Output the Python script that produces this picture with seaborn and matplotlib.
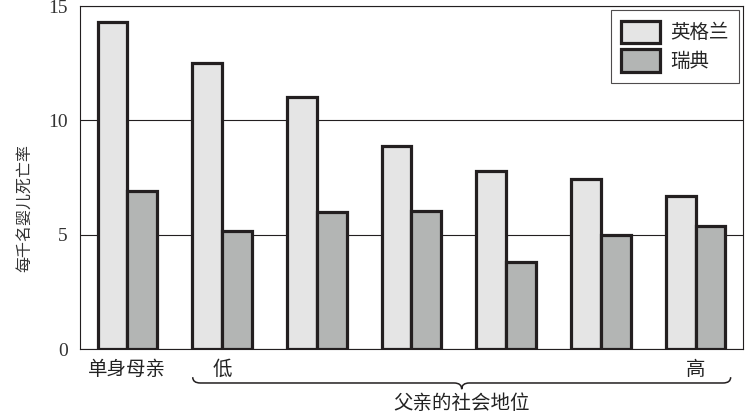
import matplotlib
matplotlib.use("Agg")
import matplotlib.pyplot as plt
import matplotlib.transforms as mtransforms
from matplotlib.path import Path
from matplotlib.patches import PathPatch
import pandas as pd
import seaborn as sns

# 数据
groups = ["单身母亲", "1", "2", "3", "4", "5", "6"]
tick_labels = ["单身母亲", "低", "", "", "", "", "高"]
countries = ["英格兰", "瑞典"]
england = [14.3, 12.5, 11.0, 8.9, 7.8, 7.45, 6.7]
sweden = [6.9, 5.15, 6.0, 6.05, 3.8, 5.0, 5.4]

df = pd.DataFrame({
    "组": groups * 2,
    "国家": [countries[0]] * len(groups) + [countries[1]] * len(groups),
    "死亡率": england + sweden,
})

sns.set_style("white")
plt.rcParams["font.family"] = ["Noto Sans CJK SC", "DejaVu Sans"]

ink = "#231f20"
fig = plt.figure(figsize=(7.52, 4.17), dpi=100)
ax = fig.add_axes([0.1064, 0.163, 0.8816, 0.8226])

sns.barplot(data=df, x="组", y="死亡率", hue="国家",
            palette=["#e5e5e5", "#b3b5b4"], width=0.63, saturation=1,
            edgecolor=ink, linewidth=2.3, ax=ax, zorder=3)

ax.set_xlim(-0.5, 6.5)
ax.set_ylim(0, 15)
ax.set_yticks([0, 5, 10, 15])
ax.set_yticklabels(["0", "5", "10", "15"], family="Liberation Serif",
                   fontsize=14, color="#333333")
ax.yaxis.grid(True, color=ink, linewidth=0.8)
ax.set_axisbelow(True)
ax.tick_params(axis="y", length=7, width=0.8, color=ink, pad=2)

ax.set_xticks(range(len(groups)))
ax.set_xticklabels(tick_labels, fontsize=14, color="#222222")
ax.tick_params(axis="x", which="major", length=0, pad=7)
ax.set_xticks([i - 0.5 for i in range(len(groups) + 1)], minor=True)
ax.tick_params(axis="x", which="minor", length=6, width=0.8, color=ink,
               direction="out")

for s in ax.spines.values():
    s.set_color(ink)
    s.set_linewidth(0.8)

ax.set_xlabel("")
ax.set_ylabel("每千名婴儿死亡率", fontsize=11.5, color="#333333")
ax.yaxis.set_label_coords(-0.07, 0.41)

# 图例
h, l = ax.get_legend_handles_labels()
leg = ax.legend(h, l, loc="upper right", bbox_to_anchor=(1.0, 1.0),
                borderaxespad=0.2, frameon=True, fancybox=False,
                edgecolor=ink, fontsize=14, handlelength=2.0,
                handleheight=1.4, borderpad=0.55, labelspacing=0.3,
                handletextpad=0.5)
leg.get_frame().set_linewidth(0.8)
for p in leg.get_patches():
    p.set_edgecolor(ink)
    p.set_linewidth(2.3)

# 花括号 + 横轴标题
blend = mtransforms.blended_transform_factory(ax.transData, ax.transAxes)
x0, x1 = 0.69, 6.37
xc = (x0 + x1) / 2
yt, ym, yb = -0.082, -0.099, -0.117
d = 0.08
verts = [(x0, yt), (x0, ym), (x0 + d, ym),
         (xc - d, ym), (xc, ym), (xc, yb),
         (xc, ym), (xc + d, ym),
         (x1 - d, ym), (x1, ym), (x1, yt)]
codes = [Path.MOVETO, Path.CURVE3, Path.CURVE3,
         Path.LINETO, Path.CURVE3, Path.CURVE3,
         Path.CURVE3, Path.CURVE3,
         Path.LINETO, Path.CURVE3, Path.CURVE3]
ax.add_patch(PathPatch(Path(verts, codes), transform=blend, fill=False,
                       edgecolor=ink, linewidth=1.1, clip_on=False))
ax.text(xc, -0.16, "父亲的社会地位", transform=blend, ha="center",
        va="center", fontsize=14, color="#222222")

fig.savefig("out.png", dpi=100)
